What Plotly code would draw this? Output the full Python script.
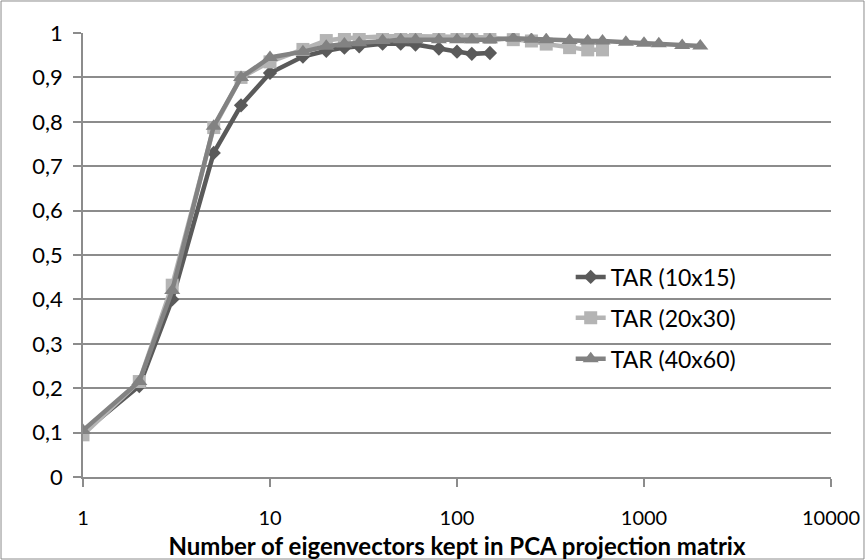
import plotly.graph_objects as go

# ---- data ----
x_10x15 = [1, 2, 3, 5, 7, 10, 15, 20, 25, 30, 40, 50, 60, 80, 100, 120, 150]
y_10x15 = [0.10, 0.205, 0.40, 0.73, 0.837, 0.91, 0.947, 0.96, 0.967, 0.97, 0.976,
           0.976, 0.974, 0.965, 0.958, 0.953, 0.955]

x_20x30 = [1, 2, 3, 5, 7, 10, 15, 20, 25, 30, 40, 50, 60, 80, 100, 120, 150,
           200, 250, 300, 400, 500, 600]
y_20x30 = [0.095, 0.215, 0.432, 0.787, 0.90, 0.935, 0.963, 0.983, 0.988, 0.99, 0.992,
           0.993, 0.993, 0.992, 0.992, 0.991, 0.99, 0.985, 0.982, 0.975, 0.967,
           0.962, 0.962]

x_40x60 = [1, 2, 3, 5, 7, 10, 15, 20, 25, 30, 40, 50, 60, 80, 100, 120, 150,
           200, 250, 300, 400, 500, 600, 800, 1000, 1200, 1600, 2000]
y_40x60 = [0.105, 0.215, 0.42, 0.79, 0.90, 0.945, 0.958, 0.97, 0.975, 0.978, 0.983,
           0.985, 0.985, 0.985, 0.985, 0.985, 0.985, 0.988, 0.986, 0.985, 0.983,
           0.982, 0.982, 0.979, 0.977, 0.976, 0.972, 0.971]

series_names = ["TAR (10x15)", "TAR (20x30)", "TAR (40x60)"]
x_ticks = [1, 10, 100, 1000, 10000]
x_tick_labels = ["1", "10", "100", "1000", "10000"]
y_ticks = [0, 0.1, 0.2, 0.3, 0.4, 0.5, 0.6, 0.7, 0.8, 0.9, 1]
x_title = "Number of eigenvectors kept in PCA projection matrix"

FONT = "Lato, 'Open Sans', sans-serif"
GRID = "#8c8c8c"

fig = go.Figure()
styles = [
    dict(color="#5a5a5a", symbol="diamond", size=11),
    dict(color="#b4b4b4", symbol="square", size=13),
    dict(color="#828282", symbol="triangle-up", size=14),
]
for i, (xs, ys) in enumerate([(x_10x15, y_10x15), (x_20x30, y_20x30), (x_40x60, y_40x60)]):
    st = styles[i]
    fig.add_trace(go.Scatter(
        x=xs, y=ys, name=series_names[i], mode="lines+markers",
        legendgroup=f"g{i}",
        line=dict(color=st["color"], width=4.5),
        marker=dict(color=st["color"], symbol=st["symbol"], size=st["size"],
                    line=dict(width=0)),
    ))

fig.update_layout(
    width=865, height=560,
    margin=dict(l=83, r=34, t=33, b=83),
    paper_bgcolor="white", plot_bgcolor="white",
    separators=",.",
    font=dict(family=FONT, size=21, color="#000000"),
    legend=dict(
        x=0.652, y=0.499, xanchor="left", yanchor="top",
        bgcolor="rgba(0,0,0,0)", font=dict(size=23, family=FONT),
        tracegroupgap=8, itemwidth=30,
    ),
    showlegend=True,
)
fig.update_xaxes(
    type="log", range=[0, 4], automargin=False,
    tickvals=x_ticks, ticktext=x_tick_labels,
    tickfont=dict(size=20, family=FONT),
    showgrid=False, showline=True, linecolor=GRID, linewidth=1.5,
    ticks="outside", ticklen=8, tickcolor=GRID, tickwidth=1.5,
    ticklabelstandoff=14,
    title=dict(text=f"<b>{x_title}</b>", font=dict(size=24, family=FONT), standoff=11),
    zeroline=False,
)
fig.update_yaxes(
    range=[0, 1], tickvals=y_ticks, automargin=False,
    tickfont=dict(size=22, family=FONT),
    showgrid=True, gridcolor=GRID, gridwidth=1.5,
    showline=True, linecolor=GRID, linewidth=1.5,
    ticks="outside", ticklen=8, tickcolor=GRID, tickwidth=1.5,
    ticklabelstandoff=6,
    zeroline=False,
)
fig.add_shape(type="rect", xref="paper", yref="paper",
              x0=-0.1096, x1=1.0441, y0=-0.1847, y1=1.0721,
              line=dict(color="#8c8c8c", width=1), layer="below")

fig.write_html("out.html")
